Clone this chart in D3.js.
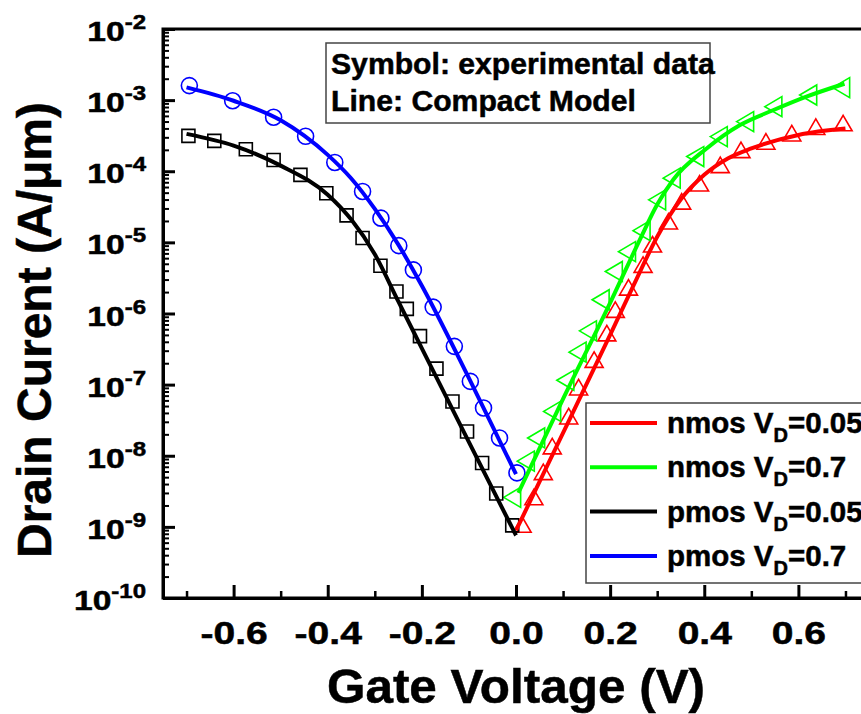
<!DOCTYPE html>
<html>
<head>
<meta charset="utf-8">
<script src="https://cdn.jsdelivr.net/npm/d3@7"></script>
<style>
  body { margin: 0; background: #fff; }
  svg { display: block; font-family: "Liberation Sans", Arial, sans-serif; font-weight: bold; }
  svg text { stroke: #000; stroke-width: 0.5px; }
</style>
</head>
<body>
<div id="chart"></div>
<script>
// experimental points (symbols)
const nmos005Vg = [0.013, 0.038, 0.058, 0.077, 0.112, 0.133, 0.166, 0.193, 0.211, 0.239, 0.270, 0.290, 0.324, 0.352, 0.390, 0.434, 0.478, 0.531, 0.586, 0.637, 0.695];
const nmos005Id = [1.02e-9, 2.48e-9, 5.6e-9, 1.29e-8, 3.4e-8, 8.7e-8, 2.12e-7, 5.0e-7, 1.07e-6, 2.2e-6, 4.6e-6, 8.9e-6, 1.87e-5, 3.56e-5, 6.4e-5, 1.16e-4, 1.89e-4, 2.48e-4, 3.24e-4, 4.0e-4, 4.5e-4];

const nmos07Vg = [-0.005, 0.024, 0.046, 0.080, 0.108, 0.134, 0.156, 0.183, 0.211, 0.239, 0.270, 0.303, 0.334, 0.384, 0.434, 0.490, 0.550, 0.624, 0.694];
const nmos07Id = [2.6e-9, 8.4e-9, 1.78e-8, 4.2e-8, 1.15e-7, 2.86e-7, 5.7e-7, 1.56e-6, 3.9e-6, 7.4e-6, 1.46e-5, 3.96e-5, 8.0e-5, 1.61e-4, 3.07e-4, 4.99e-4, 8.1e-4, 1.18e-3, 1.50e-3];

const pmos005Vg = [-0.696, -0.641, -0.574, -0.515, -0.458, -0.403, -0.360, -0.326, -0.288, -0.254, -0.232, -0.204, -0.169, -0.135, -0.104, -0.072, -0.042, -0.008];
const pmos005Id = [3.14e-4, 2.67e-4, 2.04e-4, 1.44e-4, 8.9e-5, 4.9e-5, 2.4e-5, 1.15e-5, 4.7e-6, 2.04e-6, 1.16e-6, 4.8e-7, 1.68e-7, 5.8e-8, 2.19e-8, 7.9e-9, 2.94e-9, 1.05e-9];

const pmos07Vg = [-0.694, -0.602, -0.515, -0.447, -0.385, -0.326, -0.287, -0.249, -0.218, -0.176, -0.131, -0.097, -0.069, -0.035, 0.002];
const pmos07Id = [1.60e-3, 9.8e-4, 5.75e-4, 3.1e-4, 1.33e-4, 5.2e-5, 2.19e-5, 9.0e-6, 4.1e-6, 1.23e-6, 3.45e-7, 1.11e-7, 4.7e-8, 1.78e-8, 5.75e-9];

// compact model (lines)
const nmos005ModelVg = [0, 0.1, 0.2, 0.25, 0.3, 0.35, 0.4, 0.45, 0.5, 0.6, 0.7];
const nmos005ModelId = [8.9e-10, 2.09e-8, 5.0e-7, 2.5e-6, 1.2e-5, 4.0e-5, 8.9e-5, 1.51e-4, 2.09e-4, 3.24e-4, 3.98e-4];

const nmos07ModelVg = [0.005, 0.1, 0.2, 0.264, 0.3, 0.334, 0.405, 0.476, 0.546, 0.617, 0.698];
const nmos07ModelId = [3.0e-9, 6.3e-8, 1.41e-6, 1.12e-5, 3.4e-5, 7.6e-5, 2.09e-4, 4.47e-4, 7.2e-4, 1.12e-3, 1.70e-3];

const pmos005ModelVg = [-0.7, -0.6, -0.5, -0.4, -0.35, -0.3, -0.25, -0.2, -0.1, 0];
const pmos005ModelId = [3.35e-4, 2.29e-4, 1.20e-4, 4.68e-5, 2.09e-5, 6.8e-6, 1.48e-6, 3.24e-7, 1.55e-8, 7.6e-10];

const pmos07ModelVg = [-0.7, -0.6, -0.5, -0.45, -0.4, -0.35, -0.3, -0.25, -0.2, -0.1, 0];
const pmos07ModelId = [1.51e-3, 9.8e-4, 5.2e-4, 3.16e-4, 1.70e-4, 7.9e-5, 2.95e-5, 9.3e-6, 2.45e-6, 1.23e-7, 5.5e-9];

const xTicks = [-0.6, -0.4, -0.2, 0.0, 0.2, 0.4, 0.6];
const xMinorTicks = [-0.7, -0.5, -0.3, -0.1, 0.1, 0.3, 0.5, 0.7];
const yExponents = [-10, -9, -8, -7, -6, -5, -4, -3, -2];

const legendNames = ["nmos V", "nmos V", "pmos V", "pmos V"];
const legendVd = ["=0.05", "=0.7", "=0.05", "=0.7"];
const noteLines = ["Symbol: experimental data", "Line: Compact Model"];

const series = [
  { vg: nmos005Vg, id: nmos005Id, mvg: nmos005ModelVg, mid: nmos005ModelId, color: "#ff0000", shape: "up" },
  { vg: nmos07Vg, id: nmos07Id, mvg: nmos07ModelVg, mid: nmos07ModelId, color: "#00ff00", shape: "left" },
  { vg: pmos005Vg, id: pmos005Id, mvg: pmos005ModelVg, mid: pmos005ModelId, color: "#000000", shape: "square" },
  { vg: pmos07Vg, id: pmos07Id, mvg: pmos07ModelVg, mid: pmos07ModelId, color: "#0000ff", shape: "circle" }
];

const W = 861, H = 714;
const margin = { top: 29, left: 163, bottom: 598, right: 869 };

const svg = d3.select("#chart").append("svg")
  .attr("width", W).attr("height", H);

const x = d3.scaleLinear().domain([-0.75, 0.75]).range([margin.left, margin.right]);
const y = d3.scaleLog().domain([1e-10, 1e-2]).range([margin.bottom, margin.top]);

// frame
svg.append("rect")
  .attr("x", margin.left).attr("y", margin.top)
  .attr("width", margin.right - margin.left).attr("height", margin.bottom - margin.top)
  .attr("fill", "none").attr("stroke", "#000").attr("stroke-width", 3);

// y axis
const yMajor = yExponents.map(e => Math.pow(10, e));
const yMinor = [];
yExponents.slice(0, -1).forEach(e => {
  for (let k = 2; k <= 9; k++) yMinor.push(k * Math.pow(10, e));
});

svg.append("g")
  .attr("transform", `translate(${margin.left},0)`)
  .call(d3.axisLeft(y).tickValues(yMinor).tickSize(-6).tickSizeOuter(0).tickFormat(""))
  .call(g => g.select(".domain").remove())
  .call(g => g.selectAll("line").attr("stroke-width", 2));

svg.append("g")
  .attr("transform", `translate(${margin.left},0)`)
  .call(d3.axisLeft(y).tickValues(yMajor).tickSize(-12).tickSizeOuter(0).tickFormat(""))
  .call(g => g.select(".domain").attr("stroke-width", 3))
  .call(g => g.selectAll("line").attr("stroke-width", 3));

const yLab = svg.append("g").selectAll("text")
  .data(yExponents)
  .join("text")
    .attr("transform", e => `translate(146,${y(Math.pow(10, e)) + 12}) scale(1.2,1)`)
    .attr("text-anchor", "end")
    .attr("fill", "#000");
yLab.append("tspan").attr("font-size", 28).text("10");
yLab.append("tspan").attr("font-size", 20).attr("dy", -12).text(e => String(e));

// x axis
svg.append("g")
  .attr("transform", `translate(0,${margin.bottom})`)
  .call(d3.axisBottom(x).tickValues(xMinorTicks).tickSize(-7).tickSizeOuter(0).tickFormat(""))
  .call(g => g.select(".domain").remove())
  .call(g => g.selectAll("line").attr("stroke-width", 2.5));

svg.append("g")
  .attr("transform", `translate(0,${margin.bottom})`)
  .call(d3.axisBottom(x).tickValues(xTicks).tickSize(-13).tickSizeOuter(0).tickFormat(d => d.toFixed(1)))
  .call(g => g.select(".domain").attr("stroke-width", 3))
  .call(g => g.selectAll("line").attr("stroke-width", 3))
  .call(g => g.selectAll("text")
    .attr("y", 46).attr("dy", null)
    .attr("font-size", 32)
    .attr("font-family", null)
    .attr("transform", "scale(1.22,1)")
    .attr("fill", "#000"));

// axis titles
svg.append("text")
  .attr("transform", "translate(516,703) scale(1.03,1)")
  .attr("text-anchor", "middle")
  .attr("font-size", 48)
  .text("Gate Voltage (V)");

svg.append("text")
  .attr("transform", "translate(51,330) rotate(-90)")
  .attr("text-anchor", "middle")
  .attr("font-size", 48)
  .text("Drain Curent (A/\u03bcm)");

// symbols
function markerPath(shape) {
  if (shape === "up") return "M0,-9.5L9,6L-9,6Z";
  if (shape === "left") return "M-10,0L7,-10L7,10Z";
  if (shape === "square") return "M-6.5,-6.5H6.5V6.5H-6.5Z";
  return d3.symbol(d3.symbolCircle, 201)();
}

const plot = svg.append("g");

series.forEach(s => {
  plot.append("g").selectAll("path")
    .data(s.vg.map((v, i) => [v, s.id[i]]))
    .join("path")
      .attr("d", markerPath(s.shape))
      .attr("transform", d => `translate(${x(d[0])},${y(d[1])})`)
      .attr("fill", "none")
      .attr("stroke", s.color)
      .attr("stroke-width", 1.6);
});

const line = d3.line()
  .x(d => x(d[0]))
  .y(d => y(d[1]))
  .curve(d3.curveMonotoneX);

series.forEach(s => {
  plot.append("path")
    .datum(s.mvg.map((v, i) => [v, s.mid[i]]))
    .attr("d", line)
    .attr("fill", "none")
    .attr("stroke", s.color)
    .attr("stroke-width", 4);
});

// note box
svg.append("rect")
  .attr("x", 326).attr("y", 43).attr("width", 384).attr("height", 80)
  .attr("fill", "#fff").attr("stroke", "#444").attr("stroke-width", 1.5);
svg.append("g").selectAll("text")
  .data(noteLines)
  .join("text")
    .attr("transform", (d, i) => `translate(331,${74 + i * 37}) scale(1.04,1)`)
    .attr("font-size", 29)
    .text(d => d);

// legend
const leg = svg.append("g");
leg.append("rect")
  .attr("x", 586).attr("y", 403).attr("width", 300).attr("height", 180)
  .attr("fill", "#fff").attr("stroke", "#444").attr("stroke-width", 1.5);

series.forEach((s, i) => {
  const ly = 423 + i * 44.3;
  leg.append("line")
    .attr("x1", 590).attr("x2", 657)
    .attr("y1", ly).attr("y2", ly)
    .attr("stroke", s.color).attr("stroke-width", 4);
  const t = leg.append("text")
    .attr("x", 667).attr("y", ly + 10)
    .attr("font-size", 29.5);
  t.append("tspan").text(legendNames[i]);
  t.append("tspan").attr("font-size", 20).attr("dy", 9).text("D");
  t.append("tspan").attr("dy", -9).text(legendVd[i]);
});
</script>
</body>
</html>
